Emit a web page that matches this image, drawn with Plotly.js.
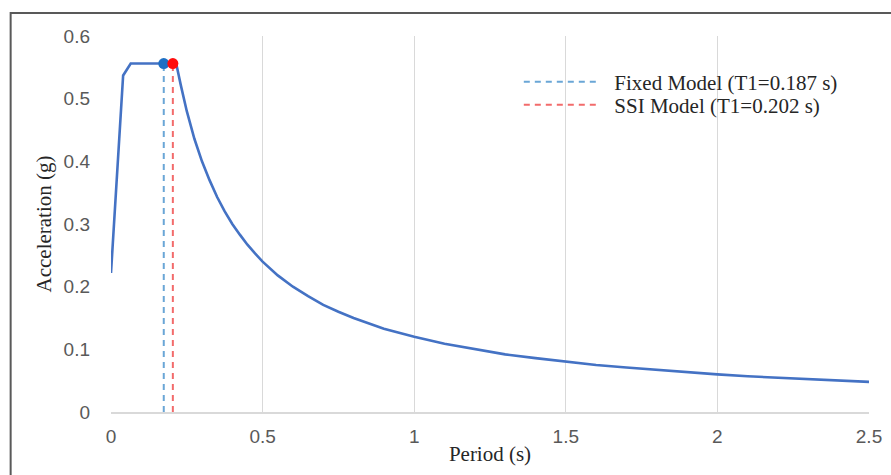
<!DOCTYPE html>
<html>
<head>
<meta charset="utf-8">
<script src="https://cdn.plot.ly/plotly-3.0.1.min.js"></script>
<style>html,body{margin:0;padding:0;background:#fff;}#chart{width:891px;height:475px;}</style>
</head>
<body>
<div id="chart"></div>
<script>
// Response spectrum
const periods = [0, 0.04, 0.065, 0.1, 0.15, 0.2, 0.215, 0.23, 0.25, 0.275, 0.3, 0.325, 0.35, 0.375, 0.4, 0.425, 0.45, 0.475, 0.5, 0.55, 0.6, 0.65, 0.7, 0.75, 0.8, 0.9, 1.0, 1.1, 1.2, 1.3, 1.4, 1.5, 1.6, 1.7, 1.8, 1.9, 2.0, 2.1, 2.2, 2.3, 2.4, 2.5];
const accel   = [0.222, 0.537, 0.556, 0.556, 0.556, 0.556, 0.556, 0.522, 0.48, 0.436, 0.40, 0.37, 0.343, 0.32, 0.30, 0.283, 0.267, 0.253, 0.24, 0.218, 0.20, 0.185, 0.171, 0.16, 0.15, 0.133, 0.12, 0.109, 0.10, 0.092, 0.086, 0.080, 0.075, 0.071, 0.067, 0.063, 0.060, 0.057, 0.055, 0.052, 0.050, 0.048];

// Fundamental-period markers
const modelNames = ["Fixed Model (T1=0.187 s)", "SSI Model (T1=0.202 s)"];
const modelT     = [0.174, 0.204];
const modelSa    = [0.556, 0.556];
const xTicks = [0, 0.5, 1, 1.5, 2, 2.5];
const xTickText = ["0", "0.5", "1", "1.5", "2", "2.5"];
const yTicks = [0, 0.1, 0.2, 0.3, 0.4, 0.5, 0.6];
const yTickText = ["0", "0.1", "0.2", "0.3", "0.4", "0.5", "0.6"];

const dashColors = ["#6aa6d6", "#f26b6b"];
const dotColors = ["#1e6fc4", "#ff0d0d"];
const legendIds = ["legend", "legend2"];

const traces = [];
for (let i = 0; i < modelT.length; i++) {
  traces.push({
    x: [modelT[i], modelT[i]], y: [0, modelSa[i]],
    mode: "lines", name: "\u00A0\u00A0" + modelNames[i], legend: legendIds[i],
    line: {color: dashColors[i], width: 2, dash: "6px,5px"},
    hoverinfo: "skip"
  });
}
traces.push({
  x: periods, y: accel, mode: "lines", showlegend: false,
  line: {color: "#4472c4", width: 2.6}
});
for (let i = 0; i < modelT.length; i++) {
  traces.push({
    x: [modelT[i]], y: [modelSa[i]], mode: "markers", showlegend: false,
    marker: {color: dotColors[i], size: 11}
  });
}

const serif = "Liberation Serif, Times New Roman, serif";
const sans = "Liberation Sans, Arial, sans-serif";

// plot area: x 110.5..869.5, y 36..412
const legendFont = {family: serif, size: 21, color: "#262626"};
const legendCommon = {
  xanchor: "left", yanchor: "middle", font: legendFont,
  bgcolor: "rgba(0,0,0,0)", itemwidth: 75, borderwidth: 0
};

const layout = {
  width: 891, height: 475,
  margin: {l: 110.5, r: 21.5, t: 36, b: 63, pad: 0},
  paper_bgcolor: "#ffffff", plot_bgcolor: "#ffffff",
  showlegend: true,
  legend: Object.assign({}, legendCommon, {x: 0.538, y: (412 - 82) / 376}),
  legend2: Object.assign({}, legendCommon, {x: 0.538, y: (412 - 105) / 376}),
  xaxis: {
    range: [0, 2.5], tickvals: xTicks, ticktext: xTickText,
    showgrid: true, gridcolor: "#d9d9d9", gridwidth: 1,
    zeroline: false, showline: true, linecolor: "#d9d9d9", linewidth: 1.5,
    ticks: "", ticklabelstandoff: 7,
    tickfont: {family: sans, size: 19, color: "#595959"},
    title: {text: "Period (s)", font: {family: serif, size: 21, color: "#262626"}, standoff: 0},
    automargin: false
  },
  yaxis: {
    range: [0, 0.6], tickvals: yTicks, ticktext: yTickText,
    showgrid: false, zeroline: false, showline: false,
    ticks: "", ticklabelstandoff: 20,
    tickfont: {family: sans, size: 19, color: "#595959"},
    title: {text: "Acceleration (g)", font: {family: serif, size: 21, color: "#262626"}, standoff: 6},
    automargin: false
  },
  shapes: [{
    type: "rect", xref: "paper", yref: "paper", layer: "above",
    x0: -0.1324, x1: 1.04, y0: -0.2, y1: 1.0612,
    line: {color: "#595959", width: 2}, fillcolor: "rgba(0,0,0,0)"
  }]
};

Plotly.newPlot("chart", traces, layout, {displayModeBar: false, staticPlot: true});
</script>
</body>
</html>
